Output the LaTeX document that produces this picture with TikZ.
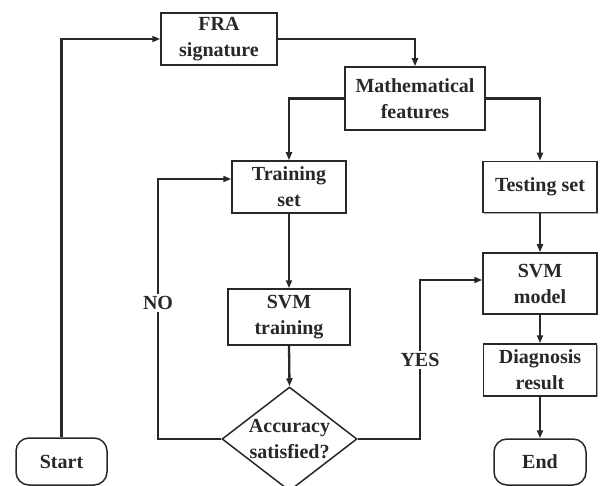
\documentclass[tikz,border=0pt]{standalone}
\usepackage{fontspec}
\setmainfont{Liberation Serif}
\usetikzlibrary{shapes.geometric,arrows.meta,shadows}
\definecolor{ink}{HTML}{282828}
\begin{document}
\begin{tikzpicture}[x=1pt,y=-1pt,
  lbl/.style={font=\bfseries\fontsize{20}{26}\selectfont, text=ink, align=center, inner sep=0pt},
  procbox/.style={lbl, draw=ink, line width=1.5pt, fill=white,
    drop shadow={shadow xshift=1pt, shadow yshift=-1.3pt, fill=gray, opacity=0.7}},
  termbox/.style={lbl, draw=ink, line width=1.5pt, fill=white, rounded corners=13pt},
  decision/.style={diamond, draw=ink, line width=1.5pt, fill=white, inner sep=0pt},
  conn/.style={draw=ink, line width=2.3pt, -{Triangle[length=8pt,width=6pt]}},
  branch/.style={lbl, fill=white, inner sep=2pt}
]
\useasboundingbox (0,0) rectangle (602,486);

% nodes
\node[procbox, minimum width=116pt, minimum height=52pt] (fra) at (219,39) {FRA\\signature};
\node[procbox, minimum width=140pt, minimum height=63pt] (math) at (415,98.5) {Mathematical\\features};
\node[procbox, minimum width=114pt, minimum height=52pt] (train) at (289,187) {Training\\set};
\node[procbox, minimum width=114pt, minimum height=51pt] (test) at (540,187) {Testing set};
\node[procbox, minimum width=122pt, minimum height=56pt] (svmt) at (289,317) {SVM\\training};
\node[procbox, minimum width=114pt, minimum height=61pt] (svmm) at (540,283.5) {SVM\\model};
\node[procbox, minimum width=113pt, minimum height=52pt] (diag) at (540,370) {Diagnosis\\result};
\node[decision, minimum width=135pt, minimum height=104pt] (acc) at (289.5,439) {};
\node[lbl] (acctext) at (acc.center) {Accuracy\\satisfied?};
\node[termbox, minimum width=91pt, minimum height=47pt] (start) at (61.5,461.5) {Start};
\node[termbox, minimum width=92pt, minimum height=46pt] (end) at (540,462) {End};

\coordinate (nocorner) at (158,179);
\coordinate (yescorner) at (420,280);

% connectors
\draw[conn] (start.north) |- (fra.west);
\draw[conn] (fra.east) -| (math.north);
\draw[conn] (math.west) -| (train.north);
\draw[conn] (math.east) -| (test.north);
\draw[conn] (train.south) -- (svmt.north);
\draw[conn] (svmt.south) -- (acc.north);
\draw[conn] (test.south) -- (svmm.north);
\draw[conn] (svmm.south) -- (diag.north);
\draw[conn] (diag.south) -- (end.north);
\draw[conn] (acc.west) -| (nocorner) -- (train.west |- nocorner);
\draw[conn] (acc.east) -| (yescorner) -- (svmm.west |- yescorner);

% branch labels
\node[branch] (nolabel) at (158,303) {NO};
\node[branch] (yeslabel) at (420,360) {YES};
\end{tikzpicture}
\end{document}
